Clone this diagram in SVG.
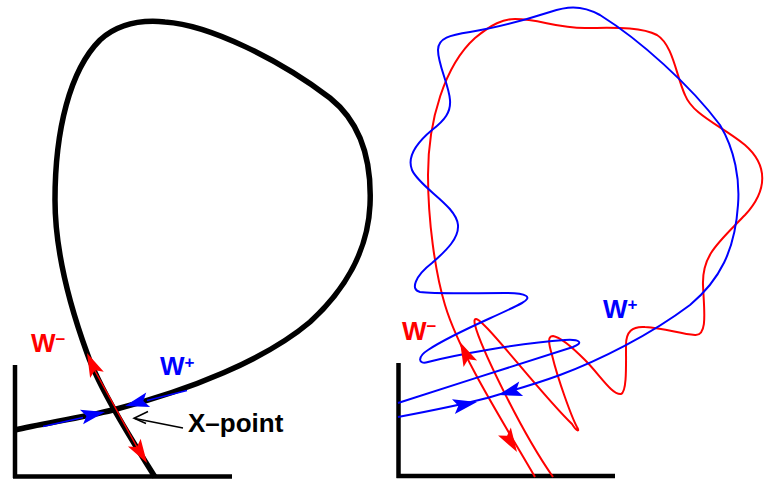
<svg xmlns="http://www.w3.org/2000/svg" width="773" height="480" viewBox="0 0 773 480">
<style>
.axis{fill:none;stroke:#000;stroke-width:4.5;stroke-linecap:butt}
.sep{fill:none;stroke:#000;stroke-width:5.5;stroke-linejoin:round}
.inR{fill:none;stroke:#ff0000;stroke-width:1.5}
.inB{fill:none;stroke:#0000ff;stroke-width:1.5}
.wr{fill:none;stroke:#ff0000;stroke-width:2}
.wb{fill:none;stroke:#0000ff;stroke-width:2}
.lbl{font-family:"Liberation Sans",Arial,Helvetica,sans-serif;font-weight:bold;font-size:26px}
.sup{font-size:17px}
.red{fill:#ff0000}
.blue{fill:#0000ff}
</style>
<defs>
<path id="ah" d="M0,0 L-24,-7.5 L-19,0 L-24,7.5 Z"/>
</defs>
<rect width="773" height="480" fill="#fff"/>

<g id="left-panel">
  <g id="left-axes">
    <path class="axis" d="M15,365 L15,478 M13,476.5 L232,476.5"/>
  </g>
  <g id="separatrix">
    <path class="sep" d="M155,477 C135,445 100,390 87,353 C75,320 55,260 55,200 C55,130 70,70 100,40 C120,22 145,20 165,22 C210,25 280,60 330,98 C360,122 372,160 370,205 C368,250 345,290 310,322 C265,360 190,390 113,410 C80,418 40,424 15,430"/>
    <path class="inR" d="M89,360 L143,458"/>
    <path class="inB" d="M43,426.5 L83,417.5 M147,400.5 L187,390.5"/>
  </g>
  <g id="left-arrows">
    <use href="#ah" class="red" transform="translate(87,353) rotate(-114.5)"/>
    <use href="#ah" class="red" transform="translate(147,463) rotate(58)"/>
    <use href="#ah" class="blue" transform="translate(105,412) rotate(-12)"/>
    <use href="#ah" class="blue" transform="translate(125,406) rotate(165)"/>
  </g>
  <g id="xpoint-label">
    <path d="M183,428 L135,418.5" fill="none" stroke="#000" stroke-width="1.5"/>
    <path d="M148,411.5 L134,418.3 L146,423.5" fill="none" stroke="#000" stroke-width="1.5"/>
    <text class="lbl" x="188" y="432" font-size="27">X–point</text>
  </g>
  <text class="lbl red" x="31" y="352">W<tspan class="sup" dy="-7">−</tspan></text>
  <text class="lbl blue" x="160" y="375">W<tspan class="sup" dy="-7">+</tspan></text>
</g>

<g id="right-panel">
  <g id="right-axes">
    <path class="axis" d="M398.5,363 L398.5,478 M396.5,476 L615,476"/>
  </g>
  <g id="unstable-manifold">
    <path class="wr" d="M535,477 C505,425 460,355 445,305 C435,272 428,220 428,175 C428,120 445,65 475,38 C492,24 503,19 515,19 C540,19 555,28 585,28 C610,28 640,26 657,35 C673,45 676,75 685,95 C693,115 720,125 745,145 C768,165 768,190 745,215 C718,243 702,255 703,285 C704,310 708,336 695,335 C680,334 665,328 645,327 C632,326 626,332 626,345 C626,365 627,392 621,394 C612,395 600,375 585,360 C570,345 560,337 553,336 C547,336 549,345 552,355 C558,380 572,418 577,427 C580,432 577,432 572,424 C545,398 500,340 484,325 C477,318 473,316 475,325 C480,345 520,430 553,477"/>
  </g>
  <g id="stable-manifold">
    <path class="wb" d="M398,403 C450,386 530,361 573,347 C584,343 580,339 565,340 C520,343 455,355 428,362 C418,365 417,357 428,350 C455,332 500,315 522,303 C533,297 527,293 505,293 C470,293 435,294 420,292 C410,290 415,276 432,263 C447,250 459,238 458,225 C456,205 420,188 412,170 C406,155 420,140 432,130 C445,120 451,112 450,100 C449,85 438,65 438,50 C438,38 450,35 470,32 C495,28 525,20 550,12 C565,7 580,4 600,15 C640,40 690,85 720,125 C735,150 740,180 738,205 C735,250 720,280 690,305 C650,335 600,360 560,375 C530,386 500,394 487,398 C460,405 430,411 398,417"/>
  </g>
  <g id="right-arrows">
    <use href="#ah" class="red" transform="translate(460,342) rotate(-115.5)"/>
    <use href="#ah" class="red" transform="translate(517,452) rotate(58.5)"/>
    <use href="#ah" class="blue" transform="translate(477,402) rotate(-11)"/>
    <use href="#ah" class="blue" transform="translate(498,395) rotate(165)"/>
  </g>
  <text class="lbl red" x="402" y="340">W<tspan class="sup" dy="-8">−</tspan></text>
  <text class="lbl blue" x="603" y="318">W<tspan class="sup" dy="-8">+</tspan></text>
</g>
</svg>
